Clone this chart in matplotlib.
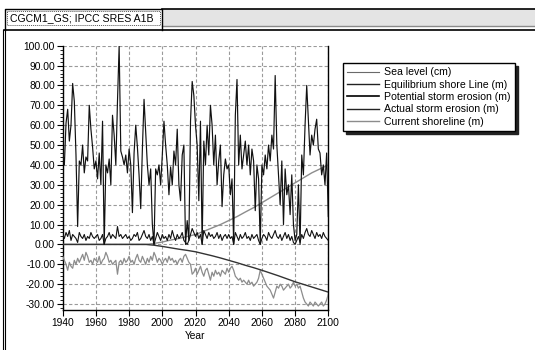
import numpy as np
import matplotlib
matplotlib.use("Agg")
import matplotlib.pyplot as plt
from matplotlib.patches import Rectangle
from matplotlib.ticker import MultipleLocator, FormatStrFormatter

plt.rcParams['font.family'] = ['Liberation Sans', 'DejaVu Sans']

# ---- data ----
tab_title = "CGCM1_GS; IPCC SRES A1B"
labels = ["Sea level (cm)", "Equilibrium shore Line (m)", "Potential storm erosion (m)",
          "Actual storm erosion (m)", "Current shoreline (m)"]

years = np.arange(1940, 2101)
years5 = np.arange(1940, 2101, 5)

potential = [47, 40, 61, 68, 52, 60, 81, 72, 45, 9,
             42, 40, 50, 36, 44, 42, 70, 58, 49, 38,
             42, 33, 46, 30, 62, 0, 40, 36, 43, 30,
             65, 55, 40, 72, 100, 47, 44, 40, 45, 36,
             48, 40, 16, 46, 60, 49, 35, 18, 48, 73,
             56, 40, 30, 38, 10, 0, 38, 35, 40, 30,
             45, 62, 50, 40, 25, 39, 30, 47, 40, 58,
             30, 22, 45, 50, 0, 12, 2, 62, 82, 75,
             60, 50, 22, 62, 0, 52, 40, 60, 45, 70,
             60, 40, 55, 30, 42, 50, 19, 35, 43, 38,
             40, 25, 33, 0, 65, 83, 40, 55, 38, 45,
             52, 40, 50, 35, 48, 42, 17, 40, 33, 0,
             40, 35, 45, 38, 50, 42, 55, 48, 85, 50,
             35, 20, 42, 10, 38, 25, 30, 15, 35, 10,
             2, 5, 30, 0, 45, 35, 60, 80, 62, 45,
             55, 50, 58, 63, 48, 46, 35, 40, 30, 46,
             14]

actual = [5, 3, 6, 4, 7, 2, 5, 4, 3, 1,
          6, 4, 3, 5, 2, 4, 3, 6, 4, 3,
          4, 5, 2, 3, 5, 0, 3, 4, 6, 3,
          5, 4, 3, 9, 4, 5, 3, 4, 5, 3,
          4, 2, 3, 5, 4, 6, 2, 3, 5, 7,
          4, 3, 5, 2, 4, 0, 3, 6, 4, 2,
          5, 3, 4, 2, 5, 3, 7, 4, 2, 5,
          3, 4, 6, 2, 1, 0, 2, 5, 8, 6,
          4, 6, 3, 5, 0, 7, 5, 3, 6, 4,
          5, 3, 4, 6, 3, 5, 2, 4, 5, 3,
          5, 3, 4, 0, 6, 4, 2, 5, 3, 4,
          6, 3, 4, 2, 5, 3, 4, 5, 2, 0,
          3, 5, 4, 2, 6, 4, 3, 5, 7, 4,
          3, 5, 2, 4, 6, 3, 5, 2, 4, 1,
          0, 2, 4, 1, 5, 3, 6, 8, 5, 4,
          7, 5, 3, 6, 4, 5, 3, 6, 4, 3,
          2]

shoreline = [-6, -8, -10, -13, -9, -11, -12, -8, -10, -7,
             -9, -7, -5, -8, -4, -6, -9, -8, -10, -7,
             -8, -9, -6, -10, -8, -7, -4, -6, -9, -8,
             -10, -9, -8, -15, -9, -8, -10, -7, -9, -8,
             -6, -9, -8, -10, -7, -5, -8, -9, -6, -8,
             -10, -7, -9, -6, -8, -4, -6, -9, -7, -8,
             -10, -8, -7, -9, -6, -8, -7, -9, -8, -10,
             -8, -7, -9, -6, -5, -7, -9, -10, -15, -14,
             -12, -15, -13, -11, -14, -16, -13, -12, -15, -18,
             -14, -16, -13, -15, -14, -16, -13, -14, -15, -12,
             -14, -12, -11, -13, -16, -17, -18, -17, -19, -18,
             -19, -20, -18, -20, -19, -21, -20, -19, -17, -13,
             -15, -17, -19, -21, -22, -23, -25, -27, -24, -21,
             -22, -20, -21, -23, -22, -21, -20, -22, -21, -19,
             -21, -20, -22, -21, -24, -27, -29, -30, -31, -29,
             -30, -31, -29, -30, -31, -30, -29, -31, -30, -28,
             -25]

sea_level = [0, 0, 0, 0, 0, 0, 0, 0, 0, 0, 0,
             0.5, 1.2, 2.2, 3.0, 4.0, 5.0, 6.6, 8.3, 10.0, 12.0, 14.0,
             16.3, 18.5, 21.0, 23.5, 26.0, 28.5, 31.0, 33.5, 36.0, 38.0, 40.0]

equilibrium = [0, 0, 0, 0, 0, 0, 0, 0, 0, 0, 0,
               -0.4, -1.0, -1.7, -2.4, -3.0, -3.7, -4.7, -5.7, -6.8, -8.0, -9.2,
               -10.5, -11.7, -13.0, -14.4, -15.8, -17.3, -18.8, -20.1, -21.4, -22.7, -24.0]

W, H = 535, 350
fig = plt.figure(figsize=(W / 100, H / 100), dpi=100)
fig.patch.set_facecolor('white')

# window chrome drawn in pixel coordinates
bg = fig.add_axes([0, 0, 1, 1], zorder=0)
bg.set_xlim(0, W)
bg.set_ylim(H, 0)
bg.axis('off')
bg.add_patch(Rectangle((162, 8.5), W - 162, 17, facecolor='#e4e4e4', edgecolor='none'))
bg.plot([162, W], [8.5, 8.5], color='black', lw=1.2)
bg.plot([162, W], [25.8, 25.8], color='#8a8a8a', lw=1)
bg.plot([4, W], [30, 30], color='black', lw=1.2)
bg.plot([2.5, 2.5], [30, H], color='black', lw=0.8)
bg.plot([5, 5], [30, H], color='black', lw=0.8)
# tab
bg.plot([5, 5, 162, 162], [30, 8.5, 8.5, 30], color='black', lw=1)
bg.add_patch(Rectangle((7, 10.5), 153, 14, facecolor='none', edgecolor='#555555',
                       lw=0.7, linestyle=(0, (1, 1))))
bg.text(10, 18, tab_title, fontsize=7.6, va='center', ha='left', color='black')

ax = fig.add_axes([62.7 / W, 1 - 310 / H, (328.3 - 62.7) / W, (310 - 45.7) / H], zorder=1)

ax.plot(years, shoreline, color='#8c8c8c', lw=0.9, zorder=3)
ax.plot(years5, sea_level, color='#8c8c8c', lw=1.0, zorder=3)
ax.plot(years5, equilibrium, color='#333333', lw=1.0, zorder=3)
ax.plot(years, actual, color='#111111', lw=0.8, zorder=4)
ax.plot(years, potential, color='#111111', lw=0.85, zorder=5)

ax.set_xlim(1940, 2100)
ax.set_ylim(-33, 100)
ax.xaxis.set_major_locator(MultipleLocator(20))
ax.yaxis.set_major_locator(MultipleLocator(10))
ax.yaxis.set_minor_locator(MultipleLocator(2))
ax.yaxis.set_major_formatter(FormatStrFormatter('%.2f'))
ax.tick_params(axis='both', which='major', direction='out', length=4, width=0.8,
               labelsize=7.4, pad=1.5, colors='black')
ax.tick_params(axis='x', pad=2)
ax.tick_params(axis='y', which='minor', direction='out', length=2, width=0.6)
ax.grid(True, which='major', color='#9a9a9a', lw=0.8, linestyle=(0, (3, 2)))
ax.spines['top'].set_visible(False)
for s in ['left', 'right', 'bottom']:
    ax.spines[s].set_linewidth(1.0)
    ax.spines[s].set_color('black')
ax.set_xlabel("Year", fontsize=7.4, labelpad=2)

# legend
handles = [plt.Line2D([], [], color='#6a6a6a', lw=0.8),
           plt.Line2D([], [], color='#222222', lw=1.0),
           plt.Line2D([], [], color='#000000', lw=1.2),
           plt.Line2D([], [], color='#222222', lw=1.0),
           plt.Line2D([], [], color='#8c8c8c', lw=1.0)]
leg = ax.legend(handles, labels, loc='upper left', bbox_to_anchor=(343 / W, 1 - 63 / H),
                bbox_transform=fig.transFigure, fontsize=7.6, frameon=True, fancybox=False,
                shadow={'color': '#222222', 'alpha': 1}, borderpad=0.42, handlelength=3.0,
                handletextpad=0.45, labelspacing=0.22, borderaxespad=0)
leg.get_frame().set_edgecolor('black')
leg.get_frame().set_linewidth(1.0)

fig.savefig("out.png", dpi=100)
